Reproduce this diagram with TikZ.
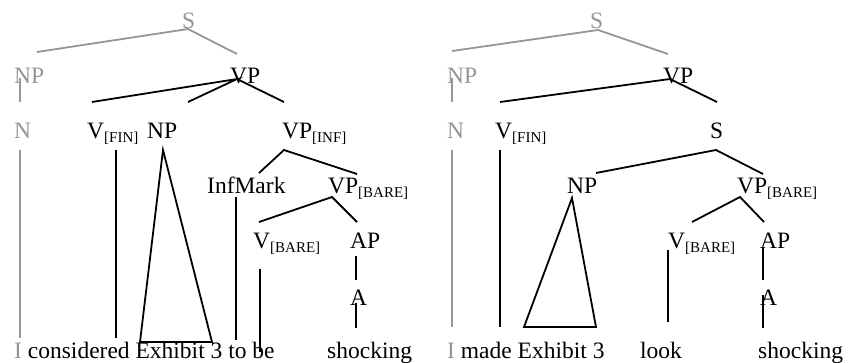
\documentclass[tikz,border=0pt]{standalone}
\usepackage{fontspec}
\setmainfont{Liberation Serif}
\definecolor{lightgr}{RGB}{150,150,150}
\newcommand\subl[1]{\raisebox{-4.5pt}{\fontsize{15}{18}\selectfont #1}}
\begin{document}
\begin{tikzpicture}[x=1pt,y=-1pt,
  lab/.style={anchor=base west,inner sep=0pt,font=\fontsize{23.5}{28}\selectfont},
  glab/.style={lab,text=lightgr},
  edge/.style={line width=1.8pt},
  gedge/.style={line width=1.8pt,draw=lightgr}]
\useasboundingbox (0,0) rectangle (857,362);
% ---------------- left tree: labels
\node[glab] (lS) at (182,28) {S};
\node[glab] (lNP) at (14,83) {NP};
\node[lab] (lVP) at (230,83) {VP};
\node[glab] (lN) at (14,138) {N};
\node[lab] (lV) at (87,138) {V\subl{[FIN]}};
\node[lab] (lNPo) at (147,138) {NP};
\node[lab] (lVPi) at (282,138) {VP\subl{[INF]}};
\node[lab] (lInf) at (207,193) {InfMark};
\node[lab] (lVPb) at (328,193) {VP\subl{[BARE]}};
\node[lab] (lVb) at (253,248) {V\subl{[BARE]}};
\node[lab] (lAP) at (350,248) {AP};
\node[lab] (lA) at (350,305) {A};
\node[lab] (lW) at (14,358) {\textcolor{lightgr}{I} considered Exhibit 3 to be};
\node[lab] (lSh) at (327,358) {shocking};
% ---------------- left tree: connector end points
\coordinate (cSa) at (188,29); \coordinate (cSn) at (37,52); \coordinate (cSv) at (237,54);
\coordinate (cNa) at (20,78); \coordinate (cNb) at (20,102);
\coordinate (cVa) at (237,79); \coordinate (cVv) at (92,102); \coordinate (cVn) at (188,102); \coordinate (cVi) at (284,102);
\coordinate (cIa) at (20,150); \coordinate (cIb) at (20,338);
\coordinate (cFa) at (116,150); \coordinate (cFb) at (116,338);
\coordinate (cTa) at (163,150); \coordinate (cTl) at (140,342); \coordinate (cTr) at (212,342);
\coordinate (cPa) at (284,150); \coordinate (cPm) at (259,173); \coordinate (cPb) at (357,174);
\coordinate (cMa) at (236,197); \coordinate (cMb) at (236,340);
\coordinate (cBa) at (332,197); \coordinate (cBv) at (259,222); \coordinate (cBp) at (357,222);
\coordinate (cLa) at (260,269); \coordinate (cLb) at (260,352);
\coordinate (cAa) at (356,256); \coordinate (cAb) at (356,280);
\coordinate (cHa) at (356,303); \coordinate (cHb) at (356,328);
% ---------------- left tree: connectors
\draw[gedge] (cSn) -- (cSa) -- (cSv);
\draw[gedge] (cNa) -- (cNb);
\draw[gedge] (cIa) -- (cIb);
\draw[edge] (cVv) -- (cVa) -- (cVn);
\draw[edge] (cVa) -- (cVi);
\draw[edge] (cFa) -- (cFb);
\draw[edge] (cTa) -- (cTl) -- (cTr) -- cycle;
\draw[edge] (cPm) -- (cPa) -- (cPb);
\draw[edge] (cMa) -- (cMb);
\draw[edge] (cBv) -- (cBa) -- (cBp);
\draw[edge] (cLa) -- (cLb);
\draw[edge] (cAa) -- (cAb);
\draw[edge] (cHa) -- (cHb);
% ---------------- right tree: labels
\node[glab] (rS) at (590,28) {S};
\node[glab] (rNP) at (447,83) {NP};
\node[lab] (rVP) at (663,83) {VP};
\node[glab] (rN) at (447,138) {N};
\node[lab] (rV) at (495,138) {V\subl{[FIN]}};
\node[lab] (rSo) at (710,138) {S};
\node[lab] (rNPo) at (567,193) {NP};
\node[lab] (rVPb) at (737,193) {VP\subl{[BARE]}};
\node[lab] (rVb) at (668,248) {V\subl{[BARE]}};
\node[lab] (rAP) at (760,248) {AP};
\node[lab] (rA) at (760,305) {A};
\node[lab] (rW) at (447,358) {\textcolor{lightgr}{I} made Exhibit 3};
\node[lab] (rLk) at (640,358) {look};
\node[lab] (rSh) at (758,358) {shocking};
% ---------------- right tree: connector end points
\coordinate (dSa) at (598,30); \coordinate (dSn) at (452,51); \coordinate (dSv) at (668,54);
\coordinate (dNa) at (452,78); \coordinate (dNb) at (452,102);
\coordinate (dVa) at (670,79); \coordinate (dVv) at (500,102); \coordinate (dVs) at (717,102);
\coordinate (dIa) at (452,150); \coordinate (dIb) at (452,327);
\coordinate (dFa) at (500,150); \coordinate (dFb) at (500,327);
\coordinate (dSSa) at (716,150); \coordinate (dSSn) at (596,173); \coordinate (dSSv) at (763,174);
\coordinate (dTa) at (572,198); \coordinate (dTl) at (524,327); \coordinate (dTr) at (596,327);
\coordinate (dBa) at (740,197); \coordinate (dBv) at (692,222); \coordinate (dBp) at (764,222);
\coordinate (dLa) at (668,250); \coordinate (dLb) at (668,322);
\coordinate (dAa) at (763,247); \coordinate (dAb) at (763,280);
\coordinate (dHa) at (763,295); \coordinate (dHb) at (763,328);
% ---------------- right tree: connectors
\draw[gedge] (dSn) -- (dSa) -- (dSv);
\draw[gedge] (dNa) -- (dNb);
\draw[gedge] (dIa) -- (dIb);
\draw[edge] (dVv) -- (dVa) -- (dVs);
\draw[edge] (dFa) -- (dFb);
\draw[edge] (dSSn) -- (dSSa) -- (dSSv);
\draw[edge] (dTa) -- (dTl) -- (dTr) -- cycle;
\draw[edge] (dBv) -- (dBa) -- (dBp);
\draw[edge] (dLa) -- (dLb);
\draw[edge] (dAa) -- (dAb);
\draw[edge] (dHa) -- (dHb);
\end{tikzpicture}
\end{document}
